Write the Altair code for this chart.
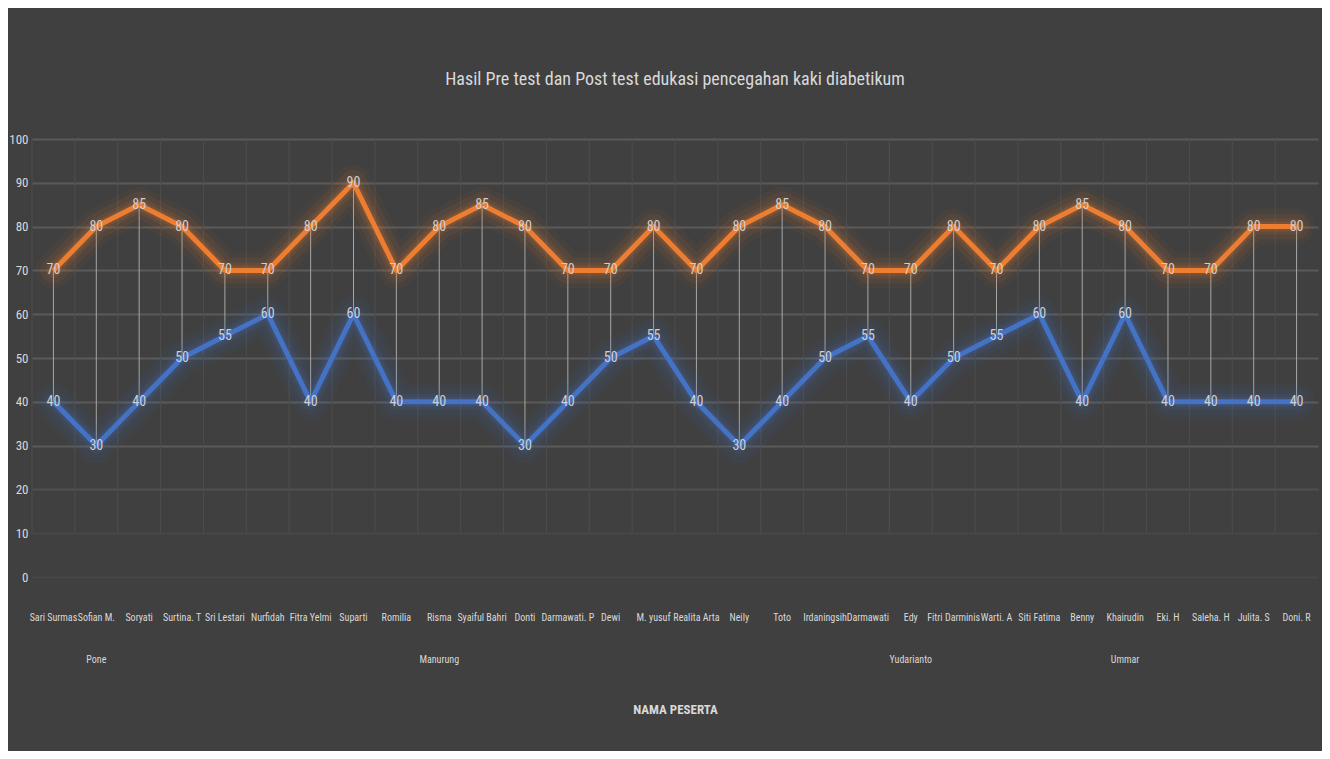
import json
import altair as alt
import pandas as pd

# ---------------- data ----------------
names = [
    "Sari Surmas", "Sofian M. Pone", "Soryati", "Surtina. T", "Sri Lestari",
    "Nurfidah", "Fitra Yelmi", "Suparti", "Romilia", "Risma Manurung",
    "Syaiful Bahri", "Donti", "Darmawati. P", "Dewi", "M. yusuf",
    "Realita Arta", "Neily", "Toto", "Irdaningsih", "Darmawati",
    "Edy Yudarianto", "Fitri Darminis", "Warti. A", "Siti Fatima", "Benny",
    "Khairudin Ummar", "Eki. H", "Saleha. H", "Julita. S", "Doni. R",
]
pre_test = [40, 30, 40, 50, 55, 60, 40, 60, 40, 40,
            40, 30, 40, 50, 55, 40, 30, 40, 50, 55,
            40, 50, 55, 60, 40, 60, 40, 40, 40, 40]
post_test = [70, 80, 85, 80, 70, 70, 80, 90, 70, 80,
             85, 80, 70, 70, 80, 70, 80, 85, 80, 70,
             70, 80, 70, 80, 85, 80, 70, 70, 80, 80]
y_ticks = [0, 10, 20, 30, 40, 50, 60, 70, 80, 90, 100]
wrapped_names = ["Sofian M. Pone", "Risma Manurung", "Edy Yudarianto", "Khairudin Ummar"]

chart_title = "Hasil Pre test dan Post test edukasi pencegahan kaki diabetikum"
x_title = "NAMA PESERTA"

# ---------------- style ----------------
BG = "#404040"
FONT = ("Noto Sans ExtraCondensed, Roboto Condensed, Noto Sans Condensed, "
        "Liberation Sans Narrow, DejaVu Sans Condensed, sans-serif")
TEXT = "#d9d9d9"
ORANGE = "#ED7D31"
BLUE = "#4472C4"

df = pd.DataFrame({"name": names, "pre": pre_test, "post": post_test})

wrap_js = json.dumps(wrapped_names)
label_expr = (
    f"indexof({wrap_js}, datum.label) >= 0 ? "
    "[slice(datum.label, 0, lastindexof(datum.label, ' ')), "
    "slice(datum.label, lastindexof(datum.label, ' ') + 1)] : datum.label"
)

x_scale = alt.Scale(type="band", paddingInner=0, paddingOuter=0)
y_scale = alt.Scale(domain=[0, 100], nice=False)

x_axis = alt.Axis(
    title=x_title, labelExpr=label_expr, labelAngle=0, labelFont=FONT,
    labelFontSize=10, labelColor=TEXT, labelPadding=35, labelLineHeight=42,
    labelBaseline="top", labelOverlap=False, labelLimit=0,
    ticks=False, domain=False, grid=False, bandPosition=0.5,
    titleFont=FONT, titleFontSize=13, titleColor=TEXT, titleFontWeight="bold",
    titlePadding=39,
)
grid_color = {
    "condition": [
        {"test": "datum.value <= 10", "value": "#474747"},
        {"test": "datum.value <= 20", "value": "#505050"},
    ],
    "value": "#5a5a5a",
}
y_axis = alt.Axis(
    values=y_ticks, title=None, grid=True, gridColor=grid_color, gridWidth=2,
    domain=False, ticks=False, labelFont=FONT, labelFontSize=13,
    labelColor=TEXT, labelPadding=4,
)


def X(band=0.5):
    return alt.X("name:N", sort=names, scale=x_scale, bandPosition=band,
                 axis=x_axis)


def Y(field):
    return alt.Y(f"{field}:Q", scale=y_scale, axis=y_axis)


base = alt.Chart(df)

# category boundary gridlines (fade out near the bottom as in the original)
vgrid = base.mark_rule(color="#4d4d4d", strokeWidth=1).encode(
    x=X(band=0),
    y=alt.datum(100, scale=y_scale, axis=y_axis),
    y2=alt.datum(10),
)

# high-low lines
hilo = base.mark_rule(color="#a6a6a6", strokeWidth=1).encode(
    x=X(), y=Y("pre"), y2="post:Q",
)

layers = [vgrid, hilo]
for field, color in [("post", ORANGE), ("pre", BLUE)]:
    for w, op in [(36, 0.05), (26, 0.07), (16, 0.10), (10, 0.14)]:
        layers.append(
            base.mark_line(color=color, strokeWidth=w, opacity=op,
                           strokeJoin="round", strokeCap="round").encode(
                x=X(), y=Y(field)
            )
        )
    layers.append(
        base.mark_line(color=color, strokeWidth=5, strokeJoin="round",
                       strokeCap="butt").encode(x=X(), y=Y(field))
    )
for field in ["post", "pre"]:
    layers.append(
        base.mark_text(font=FONT, fontSize=14, color="#d0d0d0", align="center",
                       baseline="middle").encode(
            x=X(), y=Y(field), text=alt.Text(f"{field}:Q"),
        )
    )

chart = alt.layer(*layers).properties(
    width=1286,
    height=438,
    title=alt.TitleParams(chart_title, font=FONT, fontSize=18, color=TEXT,
                          fontWeight="normal", anchor="middle",
                          baseline="alphabetic", offset=30),
    background=BG,
    padding={"left": 24, "top": 131, "right": 4, "bottom": 174},
    autosize=alt.AutoSizeParams(type="none"),
).configure_view(stroke=None)

chart.save("out.html", embed_options={"renderer": "svg", "actions": False})
